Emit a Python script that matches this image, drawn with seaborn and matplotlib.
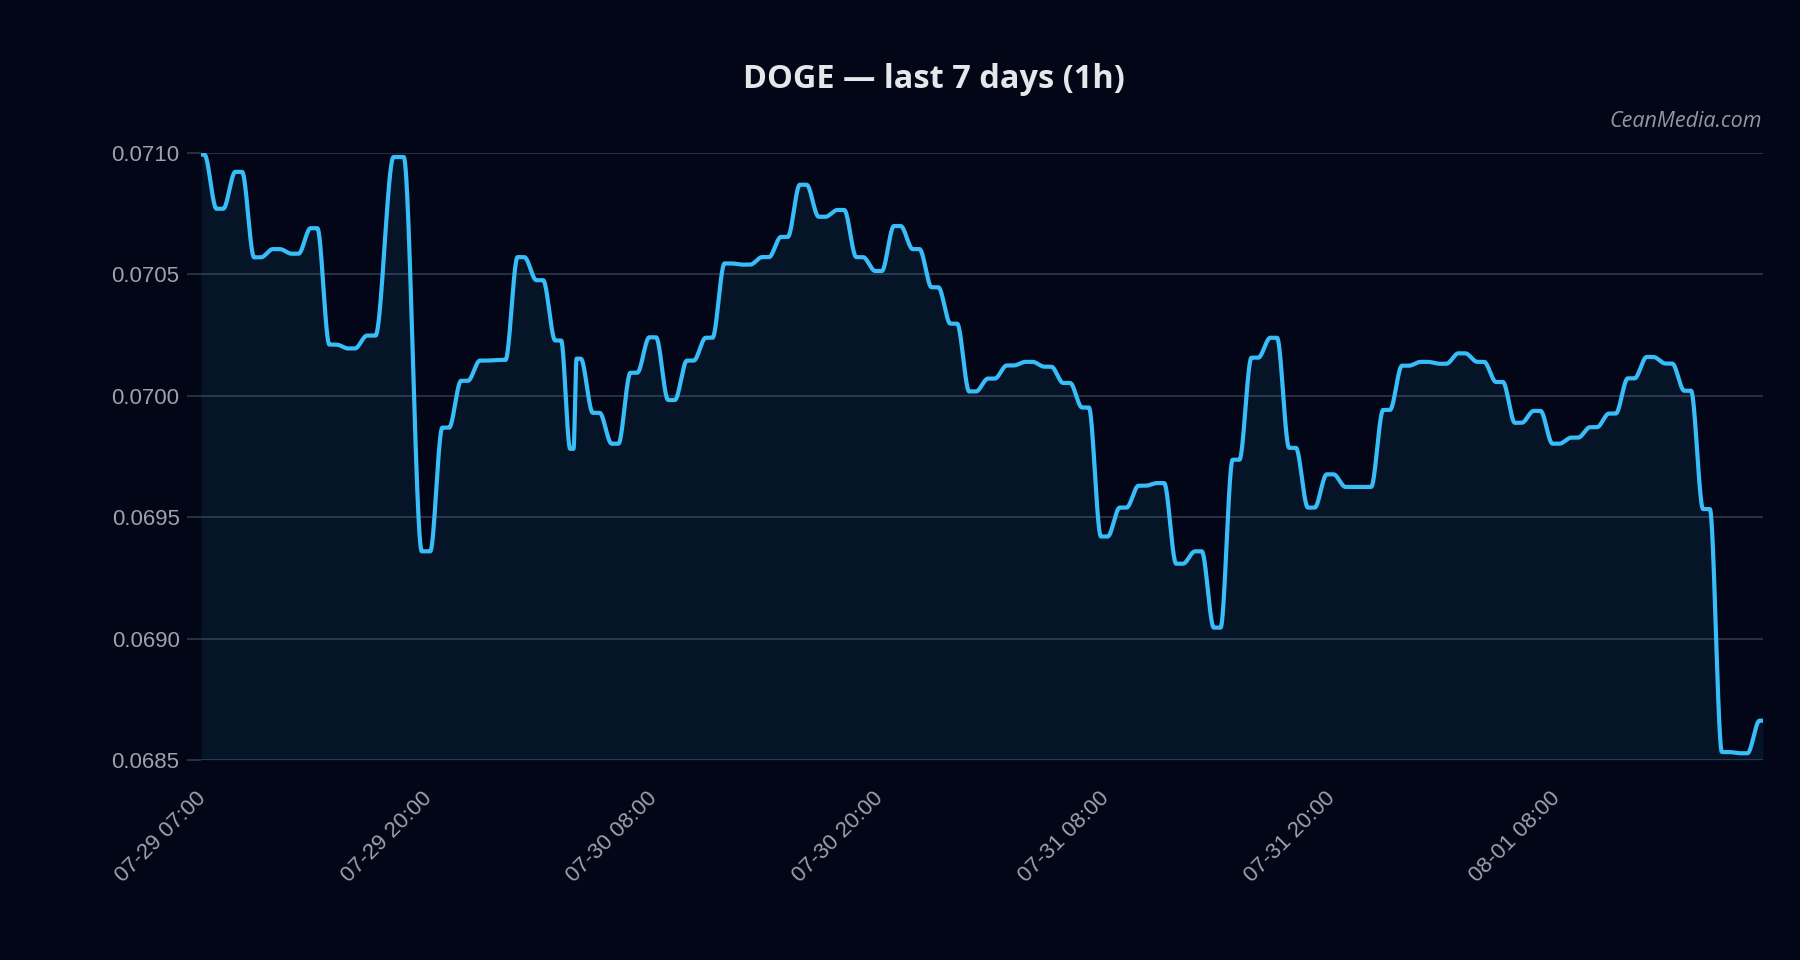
import numpy as np
import matplotlib.pyplot as plt
import seaborn as sns
from matplotlib.transforms import ScaledTranslation

# hourly DOGE closes, x = hours since 07-29 07:00 (two irregular stamps)
hours = list(range(10)) + [10.5] + list(range(12, 20)) + [19.75] + list(range(20, 84))
prices = [
    0.070992, 0.070769, 0.070921, 0.070569, 0.070603, 0.070584, 0.070689, 0.070210,
    0.070194, 0.070247, 0.070982, 0.069359, 0.069868, 0.070061, 0.070144, 0.070147,
    0.070570, 0.070475, 0.070227, 0.069781, 0.070152, 0.069929, 0.069802, 0.070094,
    0.070240, 0.069982, 0.070144, 0.070238, 0.070544, 0.070539, 0.070570, 0.070653,
    0.070868, 0.070736, 0.070764, 0.070570, 0.070513, 0.070698, 0.070603, 0.070446,
    0.070296, 0.070017, 0.070070, 0.070124, 0.070139, 0.070119, 0.070052, 0.069951,
    0.069420, 0.069539, 0.069629, 0.069640, 0.069308, 0.069359, 0.069045, 0.069736,
    0.070156, 0.070238, 0.069785, 0.069539, 0.069676, 0.069624, 0.069624, 0.069941,
    0.070123, 0.070139, 0.070131, 0.070174, 0.070139, 0.070056, 0.069888, 0.069937,
    0.069802, 0.069827, 0.069870, 0.069926, 0.070071, 0.070159, 0.070132, 0.070020,
    0.069533, 0.068533, 0.068528, 0.068662,
]
tick_hours = [0, 12, 24, 36, 48, 60, 72]
tick_labels = ['07-29 07:00', '07-29 20:00', '07-30 08:00', '07-30 20:00',
               '07-31 08:00', '07-31 20:00', '08-01 08:00']
y_ticks = [0.0685, 0.0690, 0.0695, 0.0700, 0.0705, 0.0710]
title = 'DOGE — last 7 days (1h)'
watermark = 'CeanMedia.com'

BG = '#020617'
LINE = '#38bdf8'
GRID = '#2a3444'
TICK = '#9ca3af'


def smooth_steps(x, y, n=5000, hold=0.18):
    # each close is held flat a little, then eased into the next one
    x = np.asarray(x, float)
    y = np.asarray(y, float)
    t = np.linspace(x[0], x[-1], n)
    i = np.clip(np.searchsorted(x, t, side='right') - 1, 0, len(x) - 2)
    u = (t - x[i]) / (x[i + 1] - x[i])
    u = np.clip((u - hold) / (1 - 2 * hold), 0, 1)
    u = u * u * (3 - 2 * u)
    return t, y[i] + (y[i + 1] - y[i]) * u


sns.set_theme(style='dark')
plt.rcParams['font.family'] = ['Liberation Sans', 'DejaVu Sans']
plt.rcParams['axes.facecolor'] = BG
plt.rcParams['figure.facecolor'] = BG

fig, ax = plt.subplots(figsize=(18, 9.6), dpi=100)
fig.subplots_adjust(left=0.1117, right=0.9794, top=0.841, bottom=0.2083)

t, curve = smooth_steps(hours, prices)
ax.fill_between(t, curve, y_ticks[0], color=LINE, alpha=0.08, lw=0)
sns.lineplot(x=t, y=curve, ax=ax, color=LINE, linewidth=3.0, estimator=None, sort=False)

ax.set_xlim(hours[0], hours[-1])
ax.set_ylim(y_ticks[0], y_ticks[-1])
ax.set_yticks(y_ticks)
ax.set_yticklabels([f'{v:.4f}' for v in y_ticks])
ax.set_xticks(tick_hours)
ax.set_xticklabels(tick_labels, rotation=45, ha='right')
ax.set_xlabel('')
ax.set_ylabel('')

ax.yaxis.grid(True, color=GRID, linewidth=1.3)
ax.xaxis.grid(False)
for s in ax.spines.values():
    s.set_visible(False)
ax.tick_params(axis='y', length=10, width=1.3, color=GRID, labelcolor=TICK,
               labelsize=16, pad=5.5, left=True)
ax.tick_params(axis='x', length=0, pad=20, labelcolor=TICK, labelsize=16)
shift = ScaledTranslation(0.09, 0, fig.dpi_scale_trans)
for lbl in ax.get_xticklabels():
    lbl.set_transform(lbl.get_transform() + shift)

fig.text(0.519, 1 - 88 / 960, title, ha='center', va='baseline',
         fontsize=23.4, fontweight='bold', color='#e5e7eb', family='Open Sans')
fig.text(0.979, 1 - 127 / 960, watermark, ha='right', va='baseline',
         fontsize=15.5, style='italic', color='#9098a6', family='Open Sans')

fig.savefig('out.png', dpi=100, facecolor=BG)
